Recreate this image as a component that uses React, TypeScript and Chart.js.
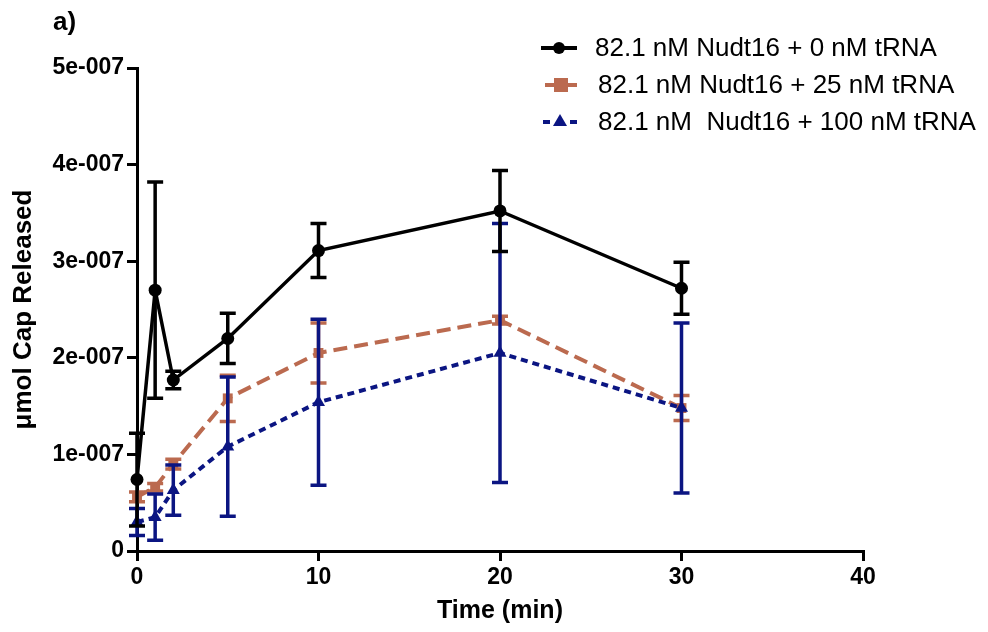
import React, { useEffect, useRef } from "react";
import { Chart, registerables } from "chart.js";

Chart.register(...registerables);

const times = [0, 1, 2, 5, 10, 20, 30];

const labelA = "82.1 nM Nudt16 + 0 nM tRNA";
const labelB = "82.1 nM Nudt16 + 25 nM tRNA";
const labelC = "82.1 nM  Nudt16 + 100 nM tRNA";

const tRNA0 = [0.74e-7, 2.7e-7, 1.77e-7, 2.2e-7, 3.11e-7, 3.52e-7, 2.72e-7];
const tRNA0Err = [0.48e-7, 1.12e-7, 0.09e-7, 0.26e-7, 0.28e-7, 0.42e-7, 0.27e-7];

const tRNA25 = [0.56e-7, 0.66e-7, 0.9e-7, 1.58e-7, 2.05e-7, 2.39e-7, 1.48e-7];
const tRNA25Err = [0.05e-7, 0.04e-7, 0.05e-7, 0.24e-7, 0.31e-7, 0.04e-7, 0.13e-7];

const tRNA100 = [0.3e-7, 0.35e-7, 0.63e-7, 1.08e-7, 1.54e-7, 2.05e-7, 1.48e-7];
const tRNA100Err = [0.14e-7, 0.24e-7, 0.26e-7, 0.72e-7, 0.86e-7, 1.34e-7, 0.88e-7];

const xTicks = [0, 10, 20, 30, 40];
const yTicks = [0, 1e-7, 2e-7, 3e-7, 4e-7, 5e-7];

const BLACK = "#000000";
const BROWN = "#bb6a4f";
const NAVY = "#0b1582";
const FONT = "'Liberation Sans', Arial, sans-serif";

const errors = [tRNA0Err, tRNA25Err, tRNA100Err];

const errorBarPlugin = {
  id: "errorBars",
  afterDatasetDraw(chart: any, args: any) {
    const i = args.index;
    const ds = chart.data.datasets[i];
    const errs = errors[i];
    const xs = chart.scales.x;
    const ys = chart.scales.y;
    const ctx = chart.ctx;
    ctx.save();
    ctx.strokeStyle = ds.borderColor;
    ctx.lineWidth = 3.5;
    ctx.setLineDash([]);
    const cap = 8;
    ds.data.forEach((p: any, k: number) => {
      const x = xs.getPixelForValue(p.x);
      const yTop = ys.getPixelForValue(p.y + errs[k]);
      const yBot = ys.getPixelForValue(p.y - errs[k]);
      ctx.beginPath();
      ctx.moveTo(x, yTop);
      ctx.lineTo(x, yBot);
      ctx.moveTo(x - cap, yTop);
      ctx.lineTo(x + cap, yTop);
      ctx.moveTo(x - cap, yBot);
      ctx.lineTo(x + cap, yBot);
      ctx.stroke();
    });
    ctx.restore();
  },
};

const legendPlugin = {
  id: "customLegend",
  afterDraw(chart: any) {
    const ctx = chart.ctx;
    ctx.save();
    // panel label
    ctx.fillStyle = "#000";
    ctx.font = `bold 26px ${FONT}`;
    ctx.textBaseline = "alphabetic";
    ctx.textAlign = "left";
    ctx.fillText("a)", 53, 30);

    ctx.font = `26px ${FONT}`;
    ctx.textBaseline = "middle";
    // item 1
    ctx.strokeStyle = BLACK;
    ctx.lineWidth = 4;
    ctx.beginPath();
    ctx.moveTo(541, 48);
    ctx.lineTo(577, 48);
    ctx.stroke();
    ctx.fillStyle = BLACK;
    ctx.beginPath();
    ctx.arc(559, 48, 6, 0, Math.PI * 2);
    ctx.fill();
    ctx.fillText(labelA, 595, 49);
    // item 2
    ctx.strokeStyle = BROWN;
    ctx.lineWidth = 4;
    ctx.beginPath();
    ctx.moveTo(545, 85);
    ctx.lineTo(577, 85);
    ctx.stroke();
    ctx.fillStyle = BROWN;
    ctx.fillRect(554, 78, 14, 14);
    ctx.fillStyle = "#000";
    ctx.fillText(labelB, 598, 86);
    // item 3
    ctx.strokeStyle = NAVY;
    ctx.lineWidth = 4;
    ctx.beginPath();
    ctx.moveTo(543, 122);
    ctx.lineTo(550, 122);
    ctx.moveTo(570, 122);
    ctx.lineTo(577, 122);
    ctx.stroke();
    ctx.fillStyle = NAVY;
    ctx.beginPath();
    ctx.moveTo(560, 114);
    ctx.lineTo(567, 126);
    ctx.lineTo(553, 126);
    ctx.closePath();
    ctx.fill();
    ctx.fillStyle = "#000";
    ctx.fillText(labelC, 598, 123);
    ctx.restore();
  },
};

export default function App() {
  const ref = useRef<HTMLCanvasElement | null>(null);
  useEffect(() => {
    document.body.style.margin = "0";
    const toPts = (ys: number[]) => times.map((t, i) => ({ x: t, y: ys[i] }));
    const chart = new Chart(ref.current as HTMLCanvasElement, {
      type: "line",
      data: {
        datasets: [
          {
            label: labelA,
            data: toPts(tRNA0),
            borderColor: BLACK,
            backgroundColor: BLACK,
            borderWidth: 3.5,
            pointStyle: "circle",
            pointRadius: 6.5,
            pointBorderWidth: 0,
            order: 0,
            clip: false,
          },
          {
            label: labelB,
            data: toPts(tRNA25),
            borderColor: BROWN,
            backgroundColor: BROWN,
            borderWidth: 4,
            borderDash: [14, 7],
            pointStyle: "rect",
            pointRadius: 7,
            pointBorderWidth: 0,
            order: 2,
            clip: false,
          },
          {
            label: labelC,
            data: toPts(tRNA100),
            borderColor: NAVY,
            backgroundColor: NAVY,
            borderWidth: 4,
            borderDash: [7, 5],
            pointStyle: "triangle",
            pointRadius: 7.5,
            pointBorderWidth: 0,
            order: 1,
            clip: false,
          },
        ] as any,
      },
      options: {
        animation: false,
        responsive: false,
        maintainAspectRatio: false,
        layout: { padding: { top: 68, right: 125, bottom: 0, left: 0 } },
        plugins: {
          legend: { display: false },
          tooltip: { enabled: false },
          title: { display: false },
        },
        scales: {
          x: {
            type: "linear",
            min: 0,
            max: 40,
            afterFit(scale: any) {
              scale.height = 81;
            },
            afterBuildTicks(scale: any) {
              scale.ticks = xTicks.map((v) => ({ value: v }));
            },
            border: { display: true, color: "#000", width: 3 },
            grid: {
              display: true,
              drawOnChartArea: false,
              drawTicks: true,
              tickLength: 10,
              color: "#000",
              lineWidth: 3,
            },
            ticks: {
              color: "#000",
              font: { family: FONT, size: 23, weight: "bold" },
              padding: 3,
              maxRotation: 0,
              autoSkip: false,
            },
            title: {
              display: true,
              text: "Time (min)",
              color: "#000",
              font: { family: FONT, size: 25, weight: "bold" },
              padding: { top: 0, bottom: 6 },
            },
          },
          y: {
            type: "linear",
            min: 0,
            max: 5e-7,
            afterFit(scale: any) {
              scale.width = 137;
            },
            afterBuildTicks(scale: any) {
              scale.ticks = yTicks.map((v) => ({ value: v }));
            },
            border: { display: true, color: "#000", width: 3 },
            grid: {
              display: true,
              drawOnChartArea: false,
              drawTicks: true,
              tickLength: 10,
              color: "#000",
              lineWidth: 3,
            },
            ticks: {
              color: "#000",
              font: { family: FONT, size: 23, weight: "bold" },
              padding: 3,
              autoSkip: false,
              callback: (v: any) => {
                const n = Math.round(Number(v) * 1e7);
                return n === 0 ? "0" : `${n}e-007`;
              },
            },
            title: {
              display: true,
              text: "μmol Cap Released",
              color: "#000",
              font: { family: FONT, size: 26, weight: "bold" },
              padding: { top: 8, bottom: 0 },
            },
          },
        },
      } as any,
      plugins: [errorBarPlugin, legendPlugin],
    });
    return () => chart.destroy();
  }, []);
  return (
    <div style={{ position: "absolute", left: 0, top: 0, width: 988, height: 632 }}>
      <canvas ref={ref} width={988} height={632} style={{ width: 988, height: 632 }} />
    </div>
  );
}
